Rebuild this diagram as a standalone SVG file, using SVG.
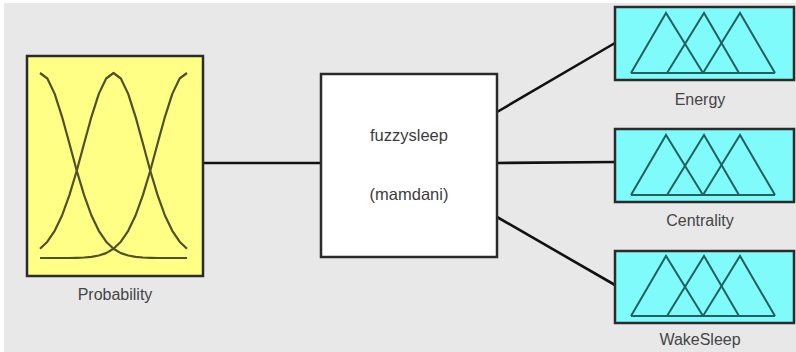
<svg xmlns="http://www.w3.org/2000/svg" width="796" height="352" viewBox="0 0 796 352">
  <style>
    .frame { stroke: #2b2b2b; stroke-width: 2.5; }
    .input { fill: #ffff85; }
    .system { fill: #ffffff; }
    .output { fill: #80fbfb; }
    .gauss { fill: none; stroke: #50502a; stroke-width: 2.2; stroke-linejoin: round; }
    .tri { fill: none; stroke: #236060; stroke-width: 2; stroke-linejoin: miter; }
    .label { font-family: "Liberation Sans", Arial, sans-serif; font-size: 16px; fill: #454545; text-anchor: middle; }
    .title { font-family: "Liberation Sans", Arial, sans-serif; font-size: 16.5px; fill: #3c3c3c; text-anchor: middle; }
    .link { stroke: #111111; stroke-width: 2.6; fill: none; }
  </style>
  <defs>
    <!-- three triangular membership functions, shared by every output variable -->
    <g id="tri-set">
      <polyline class="tri" points="631,60 666,0 703,60"/>
      <polyline class="tri" points="667,60 704,0 739,60"/>
      <polyline class="tri" points="703,60 740,0 775,60"/>
      <line class="tri" x1="631" y1="60" x2="775" y2="60"/>
    </g>
  </defs>

  <rect x="0" y="0" width="796" height="352" fill="#ffffff"/>
  <rect x="4" y="3" width="792" height="349" fill="#e8e8e8"/>

  <g id="connectors">
    <line class="link" x1="203" y1="163" x2="321" y2="163"/>
    <line class="link" x1="497" y1="112" x2="615" y2="43"/>
    <line class="link" x1="497" y1="163" x2="615" y2="162"/>
    <line class="link" x1="497" y1="217" x2="615" y2="285"/>
  </g>

  <g id="probability">
    <rect class="frame input" x="27" y="56" width="176" height="220"/>
    <!-- gaussian sets centred at 0, 0.5 and 1 -->
    <polyline class="gauss" points="40,73 47.35,78.5 54.7,93.9 62.05,116.8 69.4,143.5 76.75,170.7 84.1,195.1 91.45,215.5 98.8,230.8 106.15,241.7 113.5,248.8 120.85,253.1 128.2,255.5 135.55,256.8 142.9,257.5 150.25,257.8 157.6,258 187,258"/>
    <polyline class="gauss" points="40,248.8 47.35,241.7 54.7,230.8 62.05,215.5 69.4,195.1 76.75,170.7 84.1,143.5 91.45,116.8 98.8,93.9 106.15,78.5 113.5,73 120.85,78.5 128.2,93.9 135.55,116.8 142.9,143.5 150.25,170.7 157.6,195.1 164.95,215.5 172.3,230.8 179.65,241.7 187,248.8"/>
    <polyline class="gauss" points="40,258 69.4,258 76.75,257.8 84.1,257.5 91.45,256.8 98.8,255.5 106.15,253.1 113.5,248.8 120.85,241.7 128.2,230.8 135.55,215.5 142.9,195.1 150.25,170.7 157.6,143.5 164.95,116.8 172.3,93.9 179.65,78.5 187,73"/>
    <text class="label" x="115" y="300">Probability</text>
  </g>

  <g id="fuzzysleep">
    <rect class="frame system" x="321" y="74" width="176" height="183"/>
    <text class="title" x="409" y="141">fuzzysleep</text>
    <text class="title" x="409" y="200">(mamdani)</text>
  </g>

  <g id="energy">
    <rect class="frame output" x="615" y="7" width="179" height="73"/>
    <use href="#tri-set" transform="translate(0,13)"/>
    <text class="label" x="700" y="105">Energy</text>
  </g>

  <g id="centrality">
    <rect class="frame output" x="615" y="129" width="179" height="73"/>
    <use href="#tri-set" transform="translate(0,135)"/>
    <text class="label" x="700" y="226">Centrality</text>
  </g>

  <g id="wakesleep">
    <rect class="frame output" x="615" y="251" width="179" height="72"/>
    <use href="#tri-set" transform="translate(0,256)"/>
    <text class="label" x="700" y="345">WakeSleep</text>
  </g>
</svg>
